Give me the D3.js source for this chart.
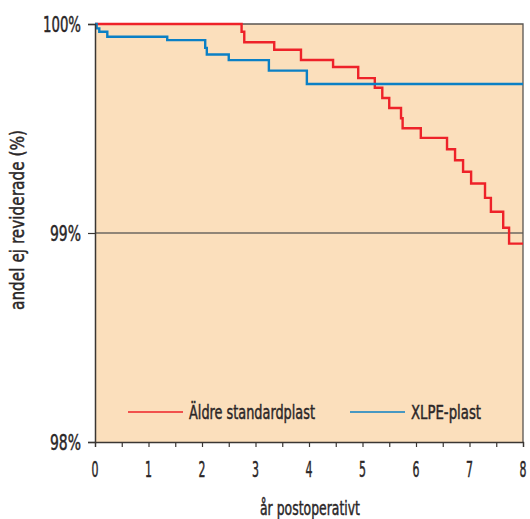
<!DOCTYPE html>
<html>
<head>
<meta charset="utf-8">
<script src="https://cdn.jsdelivr.net/npm/d3@7"></script>
<style>
  body { margin: 0; background: #fff; }
  svg text { font-family: "DejaVu Sans Condensed", "DejaVu Sans", sans-serif; fill: #2a2627; stroke: #2a2627; stroke-width: 0.45px; }
</style>
</head>
<body>
<svg id="chart" width="530" height="519"></svg>
<script>
// step points: [year, percent not revised]
const aldre = [
    [0, 100], [2.74, 99.963], [2.79, 99.913], [3.35, 99.877], [3.85, 99.828],
    [4.45, 99.794], [4.92, 99.741], [5.23, 99.695], [5.37, 99.646], [5.50, 99.598],
    [5.72, 99.549], [5.75, 99.501], [6.09, 99.455], [6.58, 99.401], [6.73, 99.348],
    [6.88, 99.293], [7.03, 99.237], [7.29, 99.168], [7.40, 99.102], [7.63, 99.025],
    [7.74, 98.949], [8, 98.949]
];
const xlpe = [
    [0, 100], [0.03, 99.979], [0.08, 99.963], [0.23, 99.939], [1.35, 99.923],
    [2.06, 99.886], [2.09, 99.854], [2.50, 99.827], [3.25, 99.777], [3.96, 99.713],
    [8, 99.713]
];
const xTicks = [0, 1, 2, 3, 4, 5, 6, 7, 8];
const yTicks = [98, 99, 100];
const seriesNames = ["Äldre standardplast", "XLPE-plast"];
const colors = ["#ee2229", "#0b80c5"];

const svg = d3.select("#chart");
const mLeft = 95, mRight = 523, mTop = 24, mBottom = 442;

const x = d3.scaleLinear().domain([0, 8]).range([mLeft, mRight]);
const y = d3.scaleLinear().domain([98, 100]).range([mBottom, mTop]);

// the original font is a narrow one, squeeze the text to its width
function squeeze(sel, w) {
    sel.attr("textLength", w).attr("lengthAdjust", "spacingAndGlyphs");
}

svg.append("rect")
    .attr("x", mLeft).attr("y", mTop)
    .attr("width", mRight - mLeft).attr("height", mBottom - mTop)
    .attr("fill", "#fbdfbc");

// 99% line
svg.append("line")
    .attr("x1", mLeft).attr("x2", mRight)
    .attr("y1", y(99)).attr("y2", y(99))
    .attr("stroke", "#6d6761").attr("stroke-width", 1.3);

// frame top/right
svg.append("path")
    .attr("d", `M${mLeft},${mTop}H${mRight}V${mBottom}`)
    .attr("fill", "none").attr("stroke", "#5a5551").attr("stroke-width", 1.3);

const lineGen = d3.line()
    .x(d => x(d[0]))
    .y(d => y(d[1]))
    .curve(d3.curveStepAfter);

[aldre, xlpe].forEach((data, i) => {
    svg.append("path")
        .datum(data)
        .attr("d", lineGen)
        .attr("fill", "none")
        .attr("stroke", colors[i])
        .attr("stroke-width", 2.4);
});

// axes
const xAxis = svg.append("g")
    .attr("transform", `translate(0,${mBottom})`)
    .call(d3.axisBottom(x).tickValues(d3.range(0, 8.01, 0.5)).tickSize(5).tickFormat(""));
xAxis.select(".domain").attr("stroke", "#3a3633").attr("stroke-width", 1.3);
xAxis.selectAll(".tick line").attr("stroke", "#3a3633").attr("stroke-width", 1.2);

svg.append("g").selectAll("text")
    .data(xTicks)
    .join("text")
    .attr("transform", d => `translate(${x(d)},476.5) scale(0.58,1)`)
    .attr("text-anchor", "middle")
    .attr("font-size", 21)
    .text(d => d);

const yAxis = svg.append("g")
    .attr("transform", `translate(${mLeft},0)`)
    .call(d3.axisLeft(y).tickValues(yTicks).tickSize(7).tickFormat(""));
yAxis.select(".domain").attr("stroke", "#3a3633").attr("stroke-width", 1.5);
yAxis.selectAll(".tick line").attr("stroke", "#3a3633").attr("stroke-width", 1.2);

svg.append("g").selectAll("text")
    .data(yTicks)
    .join("text")
    .attr("x", d => d === 100 ? 43 : 50)
    .attr("y", d => y(d) + 7.8)
    .attr("font-size", 21)
    .text(d => d + "%")
    .call(s => s.each(function (d) { squeeze(d3.select(this), d === 100 ? 38 : 31); }));

svg.append("text")
    .attr("x", 260).attr("y", 515)
    .attr("font-size", 19)
    .text("år postoperativt")
    .call(squeeze, 100);

svg.append("text")
    .attr("transform", "translate(24,310) rotate(-90)")
    .attr("font-size", 19)
    .text("andel ej reviderade (%)")
    .call(squeeze, 180);

// legend
const legendX = [128, 350];
const legendW = [126, 70];
seriesNames.forEach((name, i) => {
    const g = svg.append("g").attr("transform", `translate(${legendX[i]},412)`);
    g.append("line").attr("x1", 0).attr("x2", 55)
        .attr("stroke", colors[i]).attr("stroke-width", 1.6);
    g.append("text").attr("x", 61).attr("y", 7)
        .attr("font-size", 19)
        .text(name)
        .call(squeeze, legendW[i]);
});
</script>
</body>
</html>
